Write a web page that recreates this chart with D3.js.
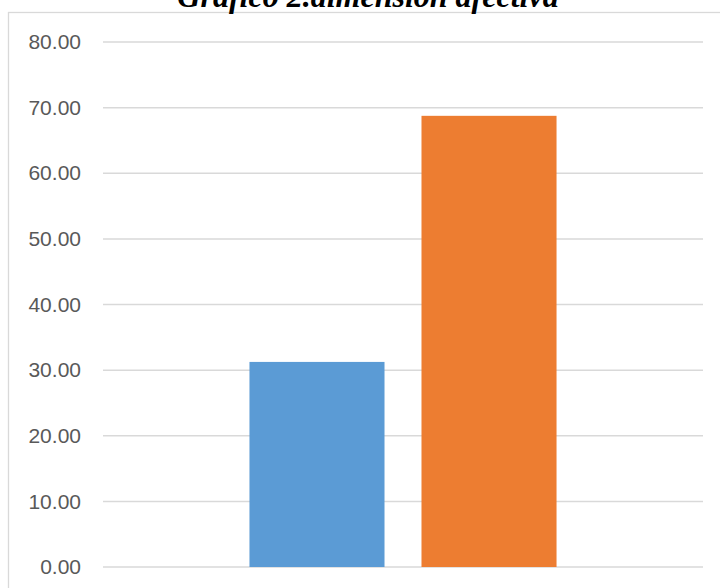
<!DOCTYPE html>
<html>
<head>
<meta charset="utf-8">
<script src="https://cdn.jsdelivr.net/npm/d3@7"></script>
<style>
  body { margin: 0; background: #fff; }
  svg { display: block; }
</style>
</head>
<body>
<svg id="chart" width="720" height="588"></svg>
<script>
// data
var categories = ["dimension afectiva"];
var seriesNames = ["Serie 1", "Serie 2"];
var seriesValues = [31.25, 68.75];
var seriesColors = ["#5B9BD5", "#ED7D31"];
var yTicks = [0, 10, 20, 30, 40, 50, 60, 70, 80];
var title = "Grafico 2.dimension afectiva";

var svg = d3.select("#chart");

// chart frame (cut by the window on the right and bottom)
svg.append("rect")
    .attr("x", 8.5).attr("y", 12.5)
    .attr("width", 740).attr("height", 620)
    .attr("fill", "none")
    .attr("stroke", "#d9d9d9")
    .attr("stroke-width", 1.3);

// title sits above the frame and is cut by the top edge, as in the reference
svg.append("text")
    .attr("x", 368).attr("y", 7)
    .attr("text-anchor", "middle")
    .style("font-family", "'Liberation Serif', 'Times New Roman', serif")
    .style("font-weight", "bold")
    .style("font-style", "italic")
    .style("font-size", "32px")
    .attr("fill", "#000")
    .text(title);

var x0 = d3.scaleBand().domain(categories).range([103, 703]).paddingInner(0).paddingOuter(0.477);
var x1 = d3.scaleBand().domain(seriesNames).range([0, x0.bandwidth()]).paddingInner(0.215).paddingOuter(0);
var y = d3.scaleLinear().domain([0, 80]).range([567, 42]);

// gridlines
svg.append("g").selectAll("line")
    .data(yTicks)
    .enter()
    .append("line")
    .attr("x1", 103).attr("x2", 703)
    .attr("y1", function(d){ return y(d) })
    .attr("y2", function(d){ return y(d) })
    .attr("stroke", "#d9d9d9")
    .attr("stroke-width", 1.5);

// y axis labels
var yAxis = d3.axisLeft(y).tickValues(yTicks).tickFormat(d3.format(".2f")).tickSize(0).tickPadding(0);
var ga = svg.append("g").attr("transform", "translate(81,0)").call(yAxis);
ga.select(".domain").remove();
ga.selectAll("text")
    .style("font-family", "'Liberation Sans', Arial, sans-serif")
    .style("font-size", "21px")
    .attr("fill", "#595959");

// bars
svg.append("g").selectAll("rect")
    .data(seriesValues)
    .enter()
    .append("rect")
    .attr("x", function(d, i){ return x0(categories[0]) + x1(seriesNames[i]) })
    .attr("y", function(d){ return y(d) })
    .attr("width", x1.bandwidth())
    .attr("height", function(d){ return y(0) - y(d) })
    .attr("fill", function(d, i){ return seriesColors[i] });
</script>
</body>
</html>
